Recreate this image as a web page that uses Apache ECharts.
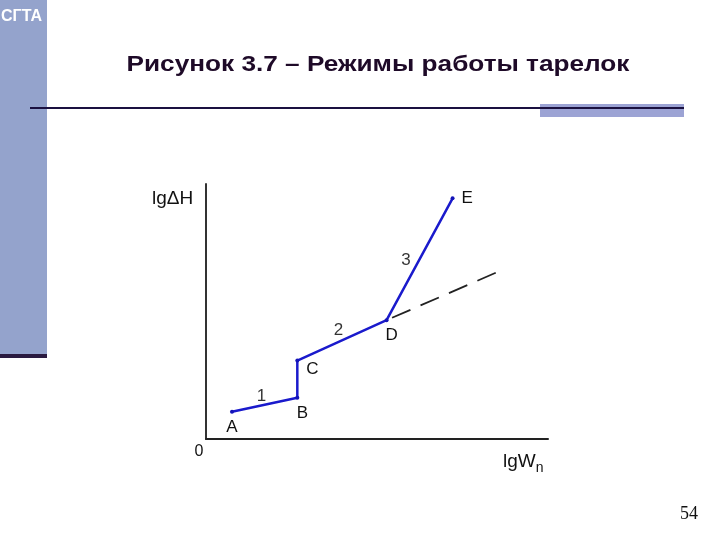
<!DOCTYPE html>
<html><head><meta charset="utf-8">
<script src="https://cdn.jsdelivr.net/npm/echarts@6/dist/echarts.min.js"></script>
<style>html,body{margin:0;padding:0;background:#fff}#c{width:720px;height:540px}</style>
</head><body><div id="c"></div>
<script>
// Data (arbitrary units along log axes)
var pointNames = ['A', 'B', 'C', 'D', 'E'];
var pointX = [0.76, 2.67, 2.67, 5.28, 7.21];
var pointY = [1.10, 1.67, 3.17, 4.80, 9.72];
var dashX = [5.28, 8.50];
var dashY = [4.80, 6.73];
var segLabels = ['1', '2', '3'];
var segLabelX = [1.62, 3.87, 5.85];
var segLabelY = [1.75, 4.45, 7.25];
var titleText = 'Рисунок 3.7 – Режимы работы тарелок';
var pageNumber = '54';

var chart = echarts.init(document.getElementById('c'), null, {renderer: 'canvas'});
var mainData = pointX.map(function (x, i) { return {value: [x, pointY[i]], name: pointNames[i]}; });
var labelPos = {
  A: {position: 'bottom', offset: [0, 0]},
  B: {position: 'bottom', offset: [5, 0]},
  C: {position: 'right', offset: [2, 9]},
  D: {position: 'bottom', offset: [5, 0]},
  E: {position: 'right', offset: [2, 0]}
};
mainData.forEach(function (d) {
  d.label = {show: true, formatter: d.name, position: labelPos[d.name].position, offset: labelPos[d.name].offset,
    fontFamily: 'Liberation Sans, Arial, sans-serif', fontSize: 17, color: '#111'};
});
var dashData = dashX.map(function (x, i) { return [x, dashY[i]]; });
var segData = segLabelX.map(function (x, i) {
  return {value: [x, segLabelY[i]], name: segLabels[i],
    label: {show: true, position: 'top', distance: 0, offset: [0, 10], formatter: segLabels[i],
      fontFamily: 'Liberation Sans, Arial, sans-serif', fontSize: 17, color: '#000', textBorderWidth: 0}};
});

chart.setOption({
  animation: false,
  backgroundColor: '#fff',
  grid: {left: 206, right: 172, top: 184, bottom: 101},
  xAxis: {type: 'value', min: 0, max: 10, axisLine: {show: true, lineStyle: {color: '#222', width: 2}},
    axisTick: {show: false}, axisLabel: {show: false}, splitLine: {show: false}},
  yAxis: {type: 'value', min: 0, max: 10.3, axisLine: {show: true, lineStyle: {color: '#333', width: 2}},
    axisTick: {show: false}, axisLabel: {show: false}, splitLine: {show: false}},
  series: [
    {type: 'line', data: dashData, symbol: 'none', z: 2,
      lineStyle: {color: '#222', width: 1.8, type: [20, 11], dashOffset: 25}},
    {type: 'line', data: mainData, symbol: 'circle', symbolSize: 4, z: 3,
      itemStyle: {color: '#1414b8'}, lineStyle: {color: '#1a1acc', width: 2.5}},
    {type: 'scatter', data: segData, symbolSize: 1, z: 4, itemStyle: {color: 'rgba(255,255,255,0)'}}
  ],
  graphic: [
    {type: 'rect', left: 0, top: 0, shape: {width: 47, height: 355}, style: {fill: '#94a3cc'}},
    {type: 'rect', left: 0, top: 354, shape: {width: 47, height: 4}, style: {fill: '#2a1a40'}},
    {type: 'text', left: 1, top: 9, style: {text: 'СГТА', fill: '#fff', font: 'bold 16px "Liberation Sans", Arial, sans-serif'}},
    {type: 'text', x: 378, y: 65, scaleX: 1.19, style: {text: titleText, fill: '#1e0a28', align: 'center', verticalAlign: 'middle', font: 'bold 22px "Liberation Sans", Arial, sans-serif'}},
    {type: 'rect', left: 540, top: 104, shape: {width: 144, height: 13}, style: {fill: '#9ca3d4'}},
    {type: 'line', shape: {x1: 30, y1: 108, x2: 684, y2: 108}, style: {stroke: '#1a1040', lineWidth: 2}},
    {type: 'text', x: 152, y: 199, style: {text: 'lgΔH', fill: '#111', verticalAlign: 'middle', font: '19px "Liberation Sans", Arial, sans-serif'}},
    {type: 'text', x: 199, y: 452, style: {text: '0', fill: '#111', align: 'center', verticalAlign: 'middle', font: '16px "Liberation Sans", Arial, sans-serif'}},
    {type: 'text', x: 503, y: 462, style: {text: '{m|lgW}{s|n}', fill: '#111', verticalAlign: 'middle',
      rich: {m: {font: '19px "Liberation Sans", Arial, sans-serif', fill: '#111'}, s: {font: '14px "Liberation Sans", Arial, sans-serif', fill: '#111', padding: [12, 0, 0, 0]}}}},
    {type: 'text', x: 689, y: 514, style: {text: pageNumber, fill: '#111', align: 'center', verticalAlign: 'middle', font: '18px "Liberation Serif", "Times New Roman", serif'}}
  ]
});
</script>
</body></html>
